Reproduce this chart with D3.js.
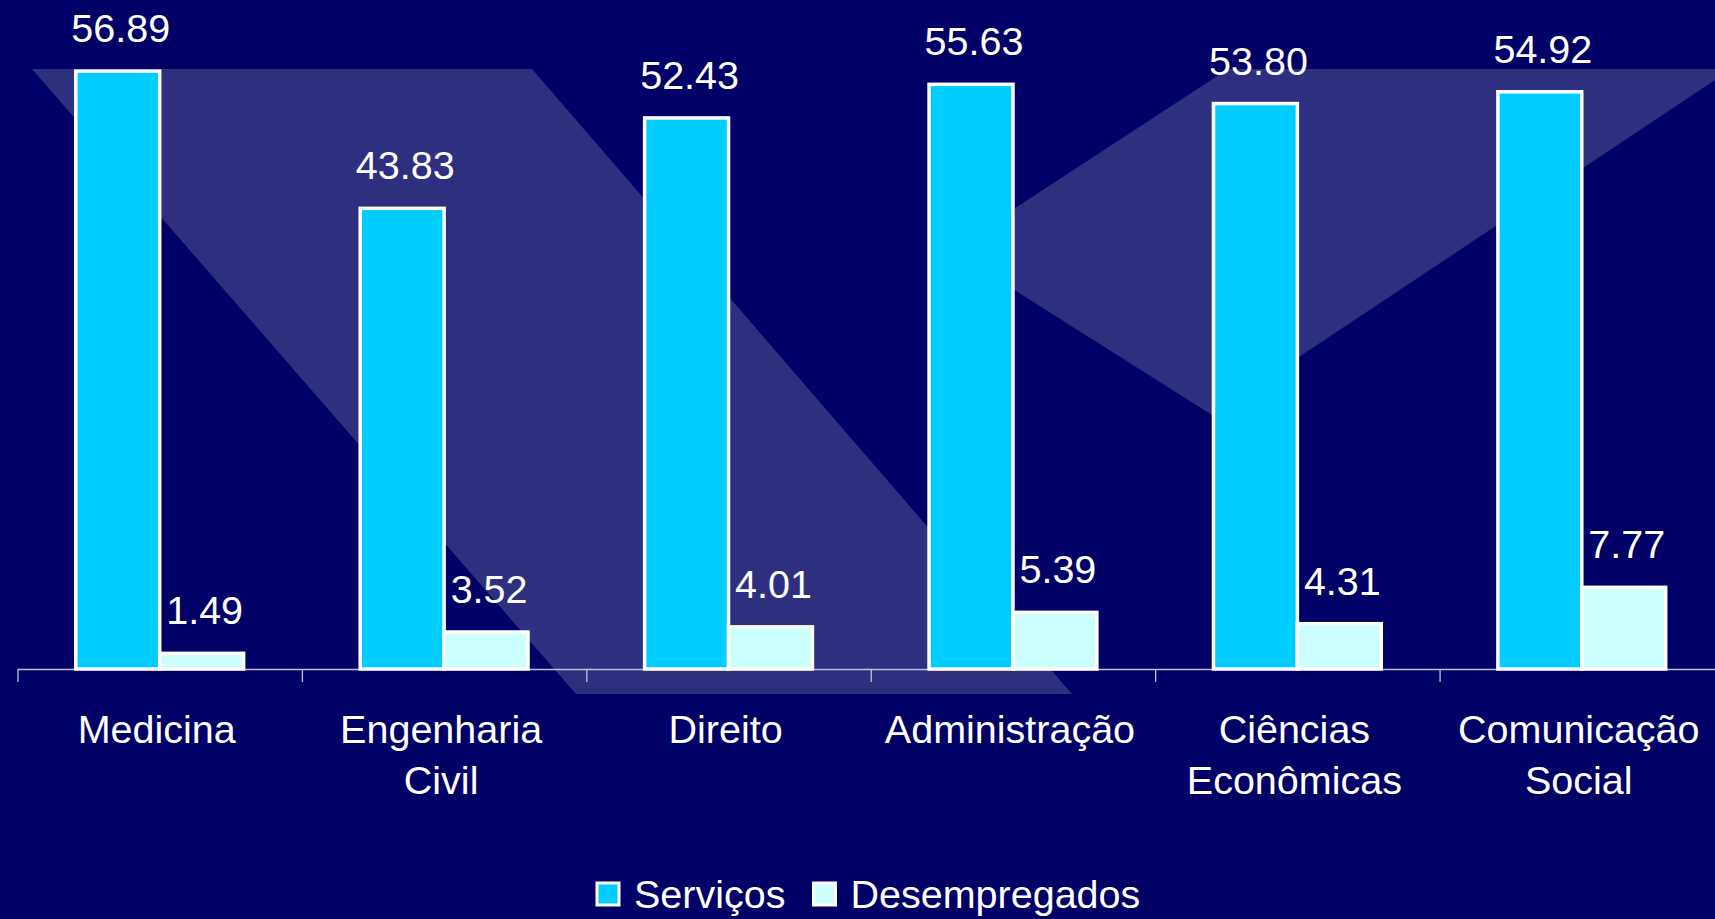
<!DOCTYPE html>
<html>
<head>
<meta charset="utf-8">
<script src="https://cdn.jsdelivr.net/npm/d3@7"></script>
<style>
  html, body { margin: 0; padding: 0; background: #000066; overflow: hidden; }
  svg { display: block; }
  text { font-family: "Liberation Sans", Arial, sans-serif; fill: #ffffff; }
</style>
</head>
<body>
<svg id="chart" width="1715" height="919"></svg>
<script>
const categories = ["Medicina", "Engenharia Civil", "Direito", "Administração", "Ciências Econômicas", "Comunicação Social"];
const seriesNames = ["Serviços", "Desempregados"];
const servicos = [56.89, 43.83, 52.43, 55.63, 53.80, 54.92];
const desempregados = [1.49, 3.52, 4.01, 5.39, 4.31, 7.77];
const seriesColors = ["#00ccff", "#ccffff"];

const W = 1715, H = 919;
const svg = d3.select("#chart");

// background
svg.append("rect").attr("width", W).attr("height", H).attr("fill", "#000066");
// decorative logo shapes
const deco = [
  [[32, 69], [532, 69], [1072, 694], [576, 694]],
  [[1228, 69], [1715, 69], [1715, 80], [1212, 415], [951, 250]]
];
svg.selectAll("polygon.deco").data(deco).join("polygon")
  .attr("class", "deco")
  .attr("points", d => d.map(p => p.join(",")).join(" "))
  .attr("fill", "#2f2f80");

const left = 17.5, right = 1724, baseY = 669;
const x = d3.scaleBand().domain(categories).range([left, right])
  .paddingInner(0.41).paddingOuter(0.205);
const xs = d3.scaleBand().domain(seriesNames).range([0, x.bandwidth()]);
const y = d3.scaleLinear().domain([0, 60]).range([baseY, baseY - 60 * 10.51]);

// axis with ticks at band boundaries
const tickScale = d3.scaleLinear().domain([0, categories.length]).range([left, right]);
const axis = svg.append("g").attr("transform", `translate(0,${baseY})`)
  .call(d3.axisBottom(tickScale).tickValues(d3.range(categories.length + 1))
    .tickFormat("").tickSize(13).tickSizeOuter(0));
axis.select(".domain").attr("stroke", "#c0c0d8").attr("stroke-width", 1.3);
axis.selectAll(".tick line").attr("stroke", "#c0c0d8").attr("stroke-width", 1.3);

const data = categories.map((c, i) => ({
  cat: c,
  vals: [{ s: seriesNames[0], v: servicos[i] }, { s: seriesNames[1], v: desempregados[i] }]
}));

const groups = svg.selectAll("g.cat").data(data).join("g")
  .attr("class", "cat")
  .attr("transform", d => `translate(${x(d.cat)},0)`);

groups.selectAll("rect").data(d => d.vals).join("rect")
  .attr("x", d => xs(d.s))
  .attr("width", xs.bandwidth())
  .attr("y", d => y(d.v))
  .attr("height", d => y(0) - y(d.v))
  .attr("fill", (d, i) => seriesColors[i])
  .attr("stroke", "#ffffff")
  .attr("stroke-width", 3.5);

const fmt = d3.format(".2f");
groups.selectAll("text.val").data(d => d.vals).join("text")
  .attr("class", "val")
  .attr("x", d => xs(d.s) + xs.bandwidth() / 2 + 3)
  .attr("y", d => y(d.v) - 29)
  .attr("text-anchor", "middle")
  .attr("font-size", "39.5px")
  .text(d => fmt(d.v));

// category labels
const labels = svg.selectAll("text.cat").data(categories).join("text")
  .attr("class", "cat")
  .attr("text-anchor", "middle")
  .attr("font-size", "39.5px")
  .attr("y", 743);
labels.each(function (d) {
  const parts = d.split(" ");
  const t = d3.select(this);
  parts.forEach((p, i) => {
    t.append("tspan").attr("x", x(d) + x.bandwidth() / 2 - 3)
      .attr("dy", i === 0 ? 0 : 51).text(p);
  });
});

// legend
const leg = svg.append("g");
let lx = 597;
seriesNames.forEach((s, i) => {
  leg.append("rect").attr("x", lx).attr("y", 883).attr("width", 22).attr("height", 22)
    .attr("fill", seriesColors[i]).attr("stroke", "#ffffff").attr("stroke-width", 3);
  const t = leg.append("text").attr("x", lx + 37).attr("y", 908)
    .attr("font-size", "39.5px").text(s);
  lx = lx + 37 + t.node().getComputedTextLength() + 28;
});
</script>
</body>
</html>
